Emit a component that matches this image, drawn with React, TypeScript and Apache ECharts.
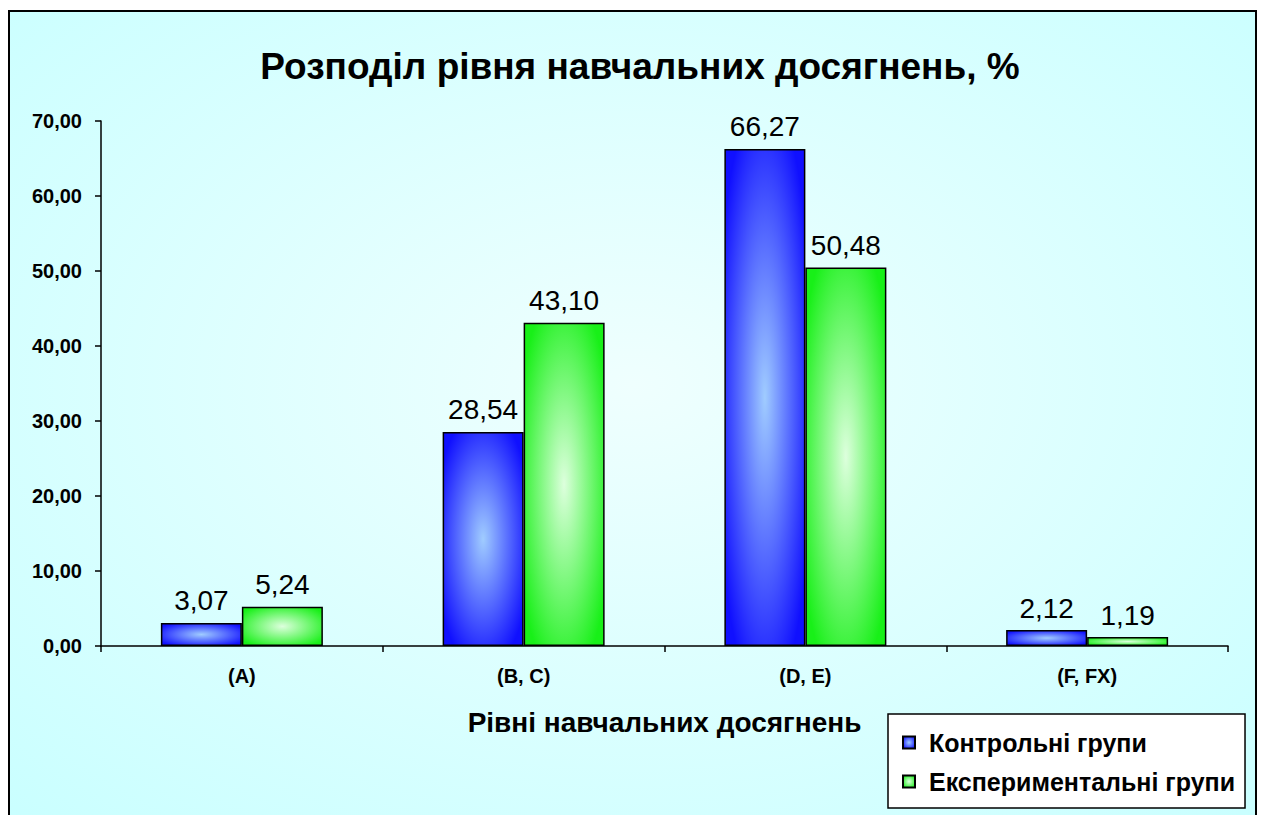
import React, { useEffect, useRef } from 'react';
import * as echarts from 'echarts';

const categories = ['(A)', '(B, C)', '(D, E)', '(F, FX)'];
const controlValues = [3.07, 28.54, 66.27, 2.12];
const experimentalValues = [5.24, 43.1, 50.48, 1.19];
const seriesNames = ['Контрольні групи', 'Експериментальні групи'];
const titleText = 'Розподіл рівня навчальних досягнень, %';
const xAxisName = 'Рівні навчальних досягнень';
const yMin = 0;
const yMax = 70;
const yInterval = 10;

const FONT = '"Liberation Sans", Arial, sans-serif';
const fmt = (v: number) => v.toFixed(2).replace('.', ',');

const blueFill = {
  type: 'radial', x: 0.5, y: 0.5, r: 0.62,
  colorStops: [
    { offset: 0, color: '#a0ccff' },
    { offset: 1, color: '#1010ff' },
  ],
};
const greenFill = {
  type: 'radial', x: 0.5, y: 0.5, r: 0.62,
  colorStops: [
    { offset: 0, color: '#ddffdd' },
    { offset: 1, color: '#18f018' },
  ],
};

export default function App() {
  const ref = useRef<HTMLDivElement>(null);
  useEffect(() => {
    document.body.style.margin = '0';
    const chart = echarts.init(ref.current!, null, { renderer: 'svg' });
    const label = {
      show: true,
      position: 'top',
      distance: 8,
      fontSize: 28,
      fontFamily: FONT,
      color: '#000',
      formatter: (p: any) => fmt(p.value),
    };
    chart.setOption({
      animation: false,
      textStyle: { fontFamily: FONT },
      graphic: [
        {
          type: 'rect',
          z: -10,
          silent: true,
          shape: { x: 9, y: 11, width: 1247, height: 830 },
          style: {
            fill: {
              type: 'radial', x: 0.5, y: 0.45, r: 0.75,
              colorStops: [
                { offset: 0, color: '#effffe' },
                { offset: 1, color: '#c8ffff' },
              ],
            },
            stroke: '#000',
            lineWidth: 2,
          },
        },
        {
          type: 'text',
          x: 640,
          y: 66,
          style: {
            text: titleText,
            fontSize: 37,
            fontWeight: 'bold',
            fontFamily: FONT,
            fill: '#000',
            textAlign: 'center',
            textVerticalAlign: 'middle',
          },
        },
      ],
      grid: { left: 101, right: 34, top: 121, bottom: 169 },
      legend: {
        orient: 'vertical',
        left: 888,
        top: 714,
        padding: [16, 10, 14, 14],
        itemGap: 14,
        itemWidth: 12,
        itemHeight: 12,
        backgroundColor: '#fff',
        borderColor: '#000',
        borderWidth: 1.5,
        borderRadius: 0,
        icon: 'rect',
        textStyle: { fontSize: 25, fontWeight: 'bold', fontFamily: FONT, color: '#000', padding: [0, 0, 0, 9] },
        data: seriesNames,
      },
      xAxis: {
        type: 'category',
        data: categories,
        name: xAxisName,
        nameLocation: 'middle',
        nameGap: 62,
        nameTextStyle: { fontSize: 28, fontWeight: 'bold', fontFamily: FONT, color: '#000' },
        axisLine: { lineStyle: { color: '#000', width: 1.5 } },
        axisTick: { show: true, length: 6, lineStyle: { color: '#000', width: 1.5 } },
        axisLabel: { fontSize: 20, fontWeight: 'bold', fontFamily: FONT, color: '#000', margin: 20 },
      },
      yAxis: {
        type: 'value',
        min: yMin,
        max: yMax,
        interval: yInterval,
        axisLine: { show: true, lineStyle: { color: '#000', width: 1.5 } },
        axisTick: { show: true, length: 6, lineStyle: { color: '#000', width: 1.5 } },
        splitLine: { show: false },
        axisLabel: {
          fontSize: 20, fontWeight: 'bold', fontFamily: FONT, color: '#000', margin: 19,
          formatter: (v: number) => fmt(v),
        },
      },
      series: [
        {
          name: seriesNames[0],
          type: 'bar',
          data: controlValues,
          barWidth: 81,
          barGap: '0%',
          itemStyle: { color: blueFill, borderColor: '#000', borderWidth: 1.5 },
          label,
        },
        {
          name: seriesNames[1],
          type: 'bar',
          data: experimentalValues,
          barWidth: 81,
          barGap: '0%',
          itemStyle: { color: greenFill, borderColor: '#000', borderWidth: 1.5 },
          label,
        },
      ],
    });
    return () => chart.dispose();
  }, []);
  return <div ref={ref} style={{ width: 1262, height: 815 }} />;
}
